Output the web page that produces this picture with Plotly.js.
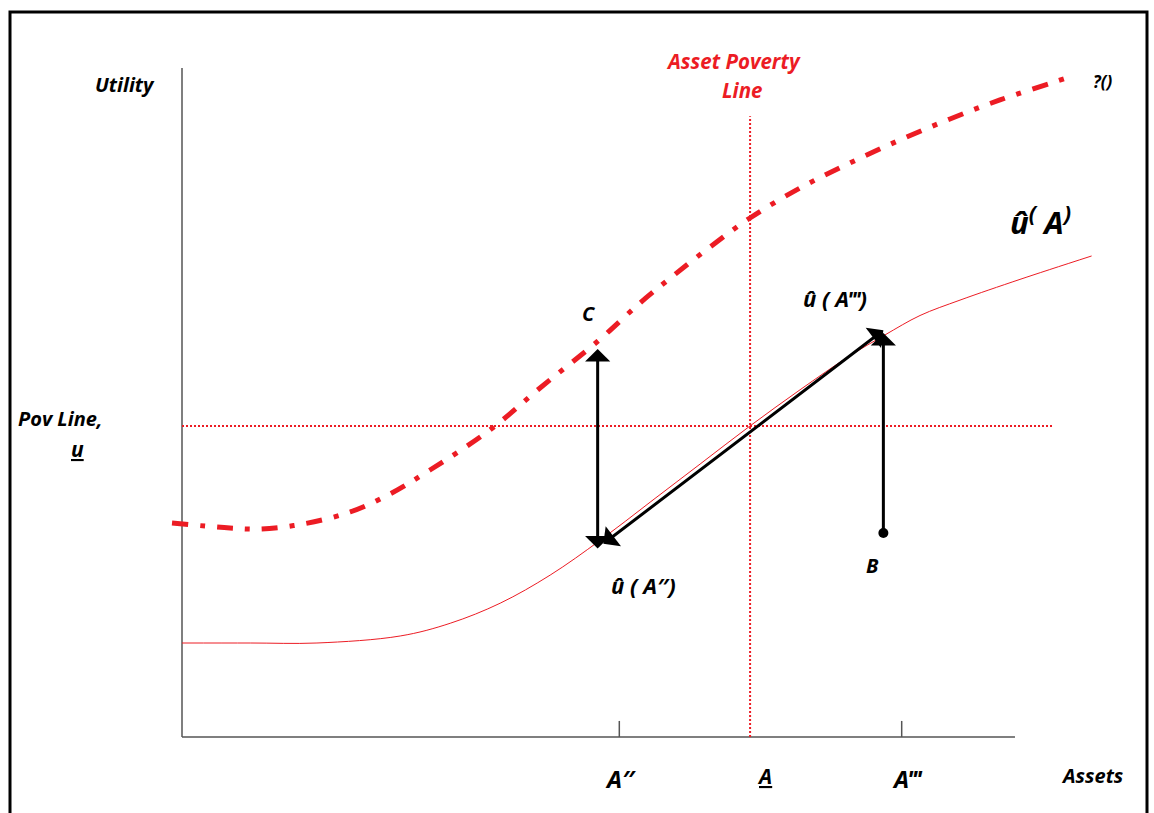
<!DOCTYPE html>
<html><head><meta charset="utf-8">
<script src="https://cdn.plot.ly/plotly-3.0.1.min.js"></script>
<style>html,body{margin:0;padding:0;background:#fff;} #chart{width:1154px;height:813px;}</style>
</head><body><div id="chart"></div>
<script>
// ---- data (assets 0-100, utility 0-100) ----
const uHatAssets  = [0, 8.2, 16.2, 26.2, 32.2, 38.2, 44.2, 50.2, 56.2, 62.2, 68.2, 74.2, 80.2, 84.4, 88.6, 93.4, 100.6, 109.2];
const uHatUtility = [14.05, 14.05, 14.05, 15.1, 17.0, 20.0, 24.2, 29.4, 35.1, 40.8, 46.5, 51.9, 57.0, 60.1, 63.0, 65.3, 68.4, 71.9];
const phiAssets   = [-1.2, 5.76, 9.36, 14.53, 20.17, 24.97, 29.77, 36.97, 42.98, 49.94, 54.98, 58.94, 63.39, 68.19, 74.19, 80.19, 86.19, 92.2, 98.2, 106.6];
const phiUtility  = [31.99, 31.24, 31.09, 31.84, 33.63, 36.32, 39.91, 45.89, 52.17, 59.19, 64.87, 68.91, 73.24, 77.58, 82.06, 85.8, 89.24, 92.38, 95.22, 98.65];
const povLineUtility = 46.5;
const povLineExtent = [0, 104.6];
const assetPovLine = 68.2;
const assetPovLineExtent = [0, 92.8];
const axisAssets = [0, 100];
const axisUtility = [0, 100];
const tickAssets = [52.5, 86.4];
const tickLength = 2.4;
const arrowCAssets = 49.9, arrowCUtility = [27.95, 58.0];
const diagAssets = [50.4, 84.2], diagUtility = [28.7, 60.8];
const arrowBAssets = 84.2, arrowBUtility = [30.5, 60.4];
const tickLabels = ['A\u2033', 'A', 'A\u2034'];

const RED = '#ec1c24';
const W = 1154, H = 813;
const px = v => v / W, py = v => 1 - v / H;
const FONT = '"Open Sans", sans-serif';

const traces = [
  {x: [axisAssets[0], axisAssets[0], null, axisAssets[0], axisAssets[1]],
   y: [axisUtility[0], axisUtility[1], null, axisUtility[0], axisUtility[0]],
   mode: 'lines', line: {color: '#555', width: 1.5}, hoverinfo: 'skip'},
  {x: [tickAssets[0], tickAssets[0], null, tickAssets[1], tickAssets[1]],
   y: [0, tickLength, null, 0, tickLength],
   mode: 'lines', line: {color: '#555', width: 1.5}, hoverinfo: 'skip'},
  {x: povLineExtent, y: [povLineUtility, povLineUtility], mode: 'lines',
   line: {color: RED, width: 2, dash: '2px,2px'}},
  {x: [assetPovLine, assetPovLine], y: assetPovLineExtent, mode: 'lines',
   line: {color: RED, width: 2, dash: '2px,2px'}},
  {x: uHatAssets, y: uHatUtility, mode: 'lines', line: {color: RED, width: 1, shape: 'spline'}},
  {x: phiAssets, y: phiUtility, mode: 'lines', line: {color: RED, width: 5, shape: 'spline', dash: '16px,12px,5px,12px'}},
  {x: [arrowBAssets], y: [arrowBUtility[0]], mode: 'markers', marker: {color: '#000', size: 10}}
];

function T(text, x, y, size, color) {
  return {text: text, x: px(x), y: py(y), xref: 'paper', yref: 'paper', showarrow: false,
    xanchor: 'center', yanchor: 'middle',
    font: {family: FONT, size: size, color: color || '#000', weight: 'bold', style: 'italic'}};
}
function arrow(x0, y0, x1, y1, both) {
  return {x: x1, y: y1, ax: x0, ay: y0, xref: 'x', yref: 'y', axref: 'x', ayref: 'y',
    text: '', showarrow: true, arrowhead: 1, startarrowhead: 1, arrowside: both ? 'end+start' : 'end',
    arrowsize: 1.4, startarrowsize: 1.4, arrowwidth: 3, arrowcolor: '#000', standoff: 0, startstandoff: 0};
}

const annotations = [
  arrow(arrowCAssets, arrowCUtility[0], arrowCAssets, arrowCUtility[1], true),
  arrow(diagAssets[0], diagUtility[0], diagAssets[1], diagUtility[1], true),
  arrow(arrowBAssets, arrowBUtility[0], arrowBAssets, arrowBUtility[1], false),
  T('Utility', 125, 84, 20),
  T('Asset Poverty', 733, 61, 20.5, RED),
  T('Line', 742, 90, 20.5, RED),
  T('?()', 1103, 82, 17),
  T('\u00fb<sup>(</sup> A<sup>)</sup>', 1040, 220, 31),
  T('C', 589, 313, 20),
  T('\u00fb ( A\u2034)', 835, 298, 22),
  T('\u00fb ( A\u2033)', 643, 585, 22),
  T('B', 873, 565, 20),
  T('Pov Line,', 60, 418, 20),
  T('<span style="text-decoration:underline">u</span>', 77, 449, 21),
  T(tickLabels[0], 620, 778, 24),
  T('<span style="text-decoration:underline">' + tickLabels[1] + '</span>', 764, 776, 21),
  T(tickLabels[2], 907, 778, 24),
  T('Assets', 1092, 775, 20)
];

const layout = {
  width: W, height: H, margin: {l: 0, r: 0, t: 0, b: 0},
  paper_bgcolor: '#fff', plot_bgcolor: '#fff', showlegend: false,
  xaxis: {range: [-21.85, 116.69], visible: false, fixedrange: true},
  yaxis: {range: [-11.36, 110.16], visible: false, fixedrange: true},
  shapes: [{type: 'rect', xref: 'paper', yref: 'paper', x0: px(10), x1: px(1147), y0: -0.05, y1: py(12),
            line: {color: '#000', width: 3}}],
  annotations: annotations
};
Plotly.newPlot('chart', traces, layout, {displayModeBar: false, staticPlot: true});
</script></body></html>
